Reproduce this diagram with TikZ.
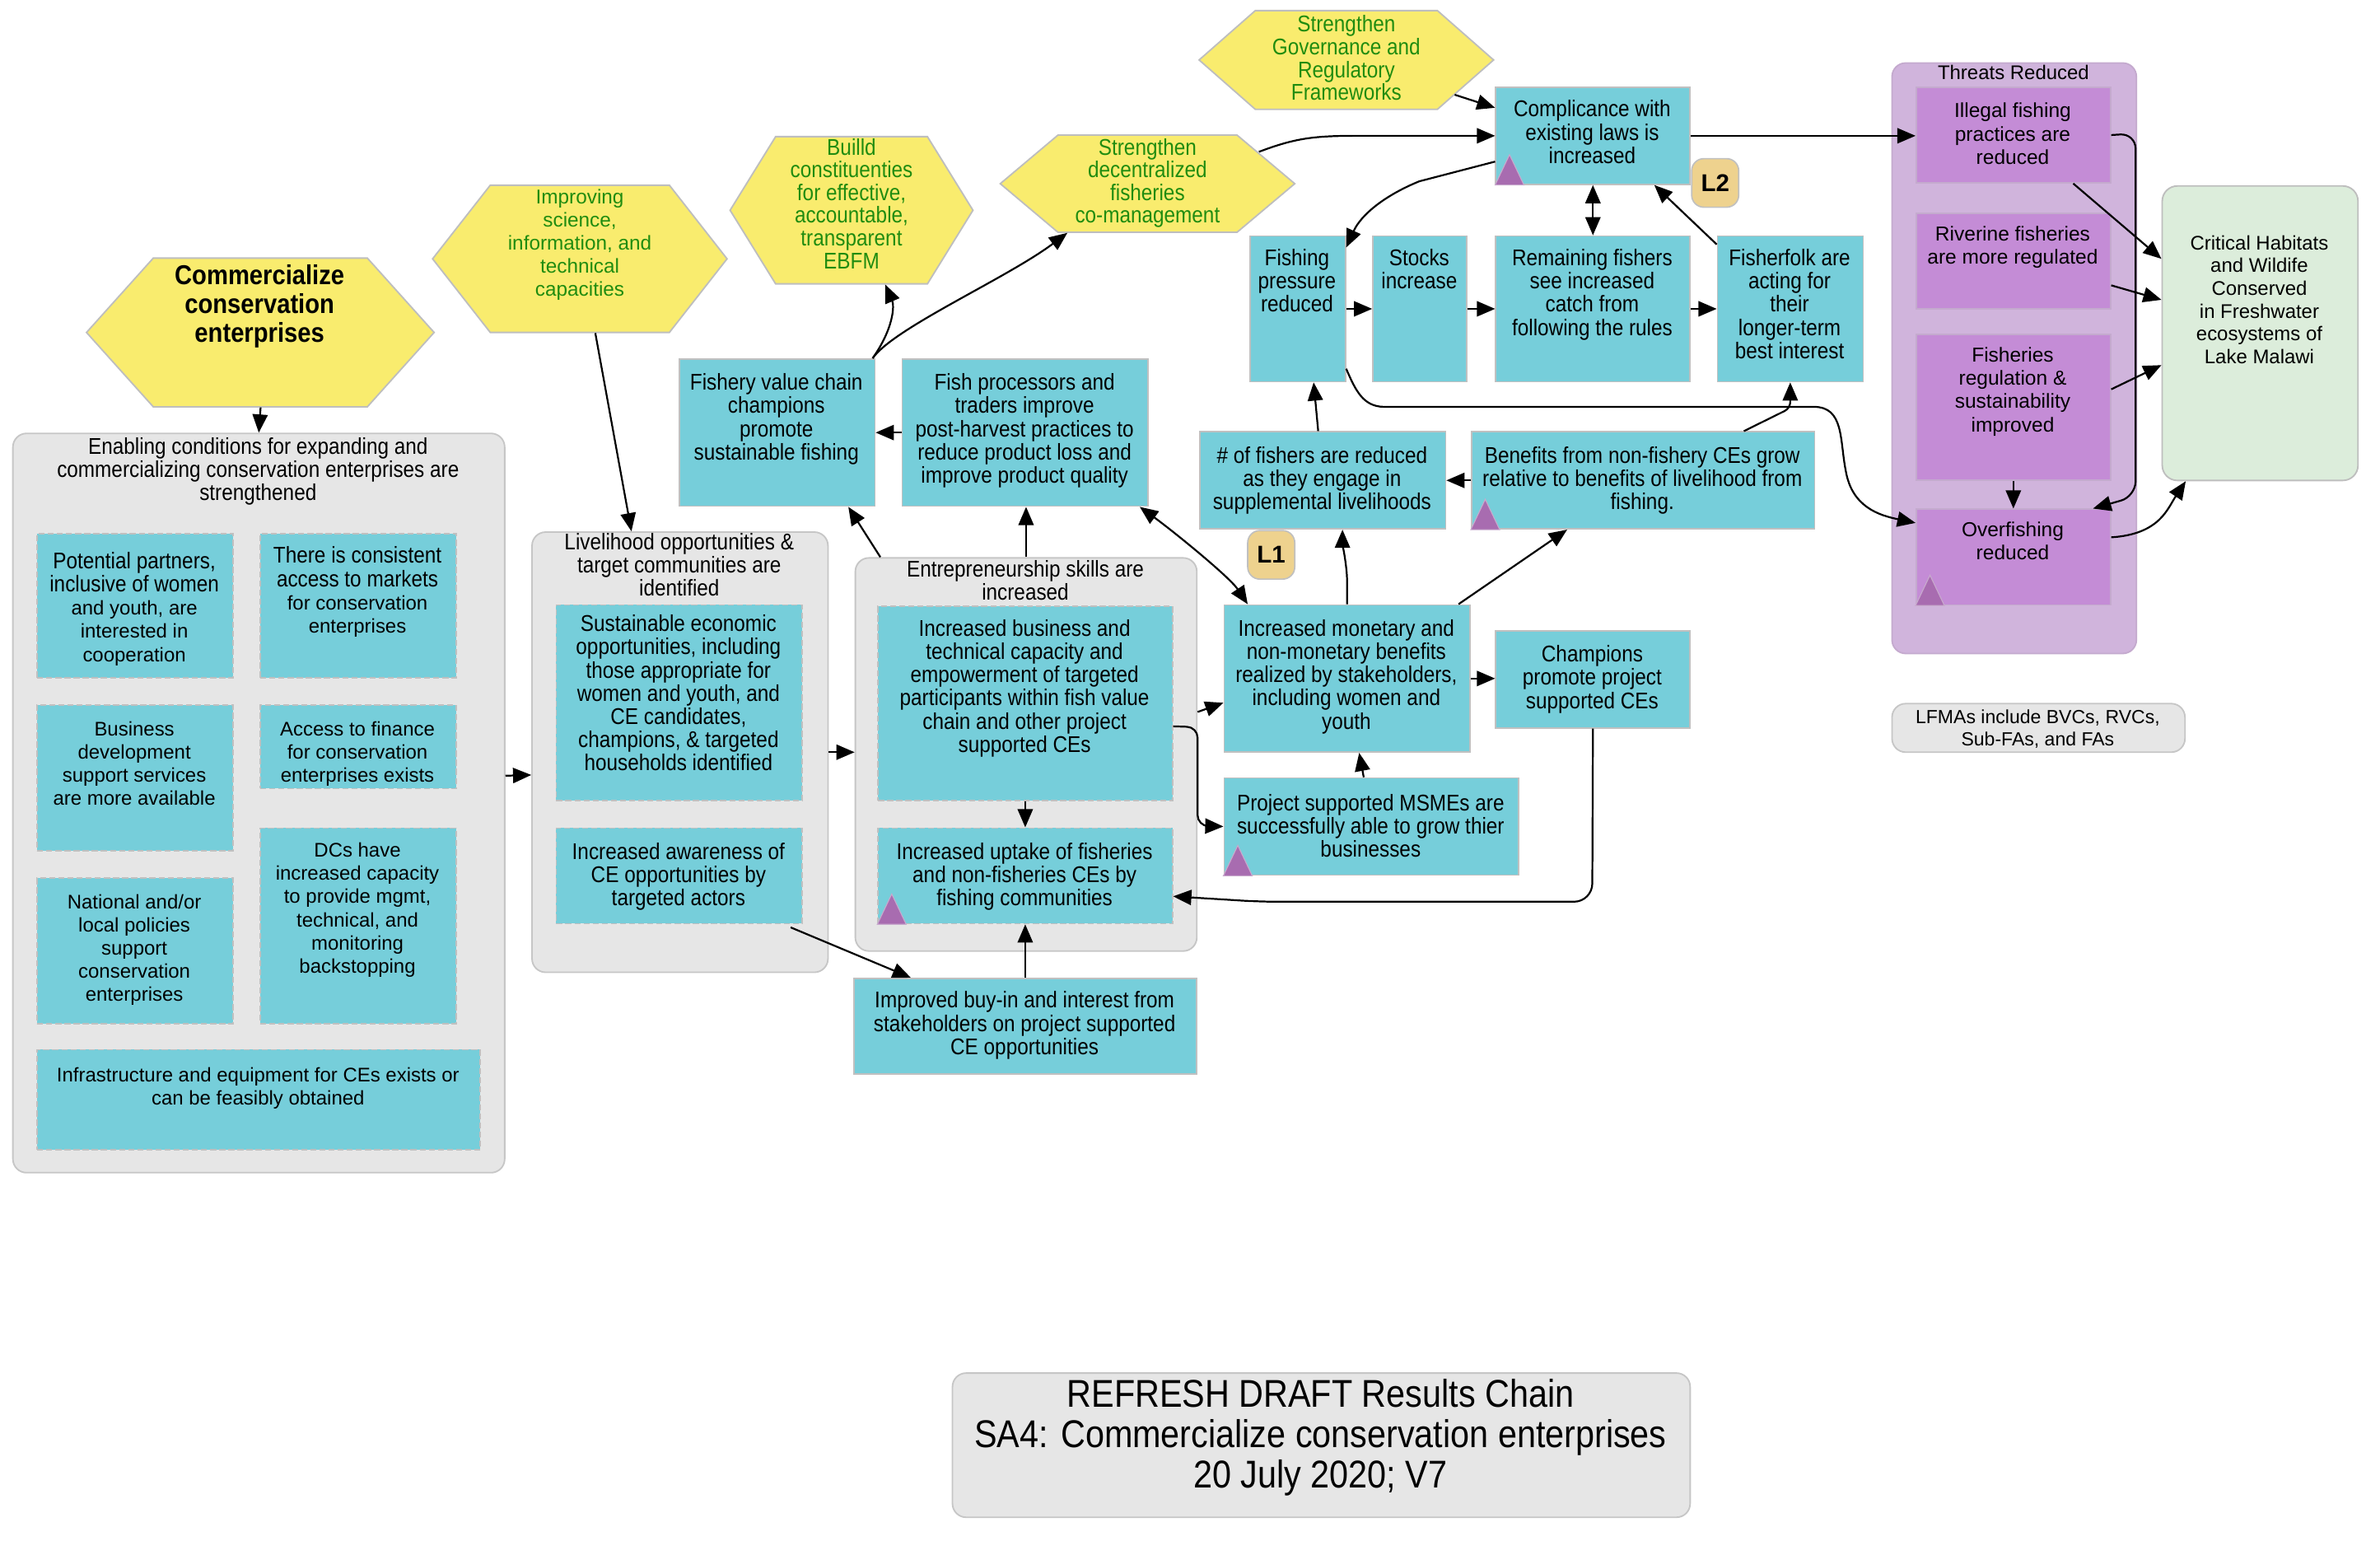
\documentclass[tikz,border=0pt]{standalone}
\usepackage{fontspec}
\setmainfont{Liberation Sans}
\newfontfamily\narrow[FakeStretch=0.88]{Liberation Sans}
\usetikzlibrary{arrows.meta,calc}

\definecolor{cyanC}{RGB}{118,206,218}
\definecolor{bordC}{RGB}{192,192,192}
\definecolor{hexY}{RGB}{249,236,110}
\definecolor{hexBd}{RGB}{190,190,190}
\definecolor{greenT}{RGB}{32,140,16}
\definecolor{grpC}{RGB}{230,230,230}
\definecolor{grpBd}{RGB}{198,198,198}
\definecolor{purG}{RGB}{208,180,220}
\definecolor{purGBd}{RGB}{196,170,206}
\definecolor{purC}{RGB}{196,140,214}
\definecolor{triC}{RGB}{168,108,176}
\definecolor{triBd}{RGB}{200,170,205}
\definecolor{tanC}{RGB}{238,210,142}
\definecolor{critC}{RGB}{220,237,219}

\newcommand\fnar{\narrow\fontsize{15}{15.3}\selectfont}
\newcommand\farl{\fontsize{13}{15.3}\selectfont}

\tikzset{
  cbox/.style={fill=cyanC, draw=bordC, line width=0.9pt},
  dbox/.style={cbox, dash pattern=on 4pt off 2pt},
  pbox/.style={fill=purC, draw=purGBd, line width=0.9pt},
  grp/.style={fill=grpC, draw=grpBd, line width=1pt, rounded corners=9pt},
  pgrp/.style={fill=purG, draw=purGBd, line width=1pt, rounded corners=9pt},
  critbox/.style={fill=critC, draw=hexBd, line width=1pt, rounded corners=10pt},
  hexst/.style={fill=hexY, draw=hexBd, line width=1pt},
  badge/.style={fill=tanC, draw=bordC, line width=0.9pt, rounded corners=8pt,
    inner sep=0, minimum width=31pt, minimum height=32pt,
    font=\bfseries\fontsize{16}{16}\selectfont},
  tri/.style={fill=triC, draw=triBd, line width=0.6pt},
  nar/.style={font=\fnar},
  arl/.style={font=\farl},
  grn/.style={text=greenT},
  arr/.style={-{Triangle[length=12pt,width=10pt]}, line width=1.2pt},
  darr/.style={{Triangle[length=12pt,width=10pt]}-{Triangle[length=12pt,width=10pt]}, line width=1.2pt},
}

% box: name, style, x1, y1, x2, y2
\newcommand\bx[6]{\node[#2, anchor=north west, inner sep=0,
  minimum width={(#5)-(#3)}, minimum height={(#6)-(#4)}] (#1) at (#3,#4) {};}
% text block: name, style, centre x, first baseline y, width, lines
\newcommand\tx[6]{\node[inner sep=0, anchor=base, #2] (#1) at (#3,#4)
  {\parbox[t]{#5pt}{\centering #6}};}
% hexagon: name, x1, y1, x2, y2, inset
\newcommand\hexa[6]{%
  \path[hexst] (#2,{(#3+#5)/2}) -- (#2+#6,#3) -- (#4-#6,#3) -- (#4,{(#3+#5)/2})
    -- (#4-#6,#5) -- (#2+#6,#5) -- cycle;
  \node[inner sep=0, anchor=north west, minimum width={(#4)-(#2)},
    minimum height={(#5)-(#3)}] (#1) at (#2,#3) {};}
% marker triangle in the lower left corner of a box
\newcommand\tri[1]{\draw[tri] (#1.south west) -- ([xshift=19pt]#1.south west)
  -- ([xshift=9.5pt,yshift=20pt]#1.south west) -- cycle;}

\begin{document}
\begin{tikzpicture}[x=1pt,y=-1pt]
\useasboundingbox (0,0) rectangle (1568,1015);

% ---------- strategies ----------
\hexa{h1}{57}{170}{286}{268}{44}
\tx{h1t}{font=\narrow\bfseries\fontsize{18}{19}\selectfont}{171}{187.5}{220}{Commercialize\\conservation\\enterprises}
\hexa{h2}{285}{122}{479}{219}{38}
\tx{h2t}{grn, font=\fontsize{13.2}{15.2}\selectfont}{382}{134.5}{180}{Improving\\science,\\information, and\\technical\\capacities}
\hexa{h3}{481}{90}{641}{187}{30}
\tx{h3t}{grn, font=\narrow\fontsize{15}{15}\selectfont}{561}{102}{150}{Builld\\constituenties\\for effective,\\accountable,\\transparent\\EBFM}
\hexa{h4}{659}{89}{853}{153}{38}
\tx{h4t}{grn, font=\narrow\fontsize{15}{15}\selectfont}{756}{102}{180}{Strengthen\\decentralized\\fisheries\\co-management}
\hexa{h5}{790}{7}{984}{72}{37}
\tx{h5t}{grn, font=\narrow\fontsize{15}{15}\selectfont}{887}{21}{180}{Strengthen\\Governance and\\Regulatory\\Frameworks}

% ---------- enabling conditions ----------
\bx{en}{grp}{8}{285}{332}{772}
\tx{ent}{nar}{170}{299}{312}{Enabling conditions for expanding and\\commercializing conservation enterprises are\\strengthened}
\bx{pp}{dbox}{24}{351}{153}{446}
\tx{ppt}{arl}{88.5}{374.5}{125}{{\fnar Potential partners,\\inclusive of women}\\and youth, are\\interested in\\cooperation}
\bx{cm}{dbox}{171}{351}{300}{446}
\tx{cmt}{arl}{235.5}{371}{125}{{\fnar There is consistent\\access to markets}\\for conservation\\enterprises}
\bx{bd}{dbox}{24}{464}{153}{560}
\tx{bdt}{arl}{88.5}{484.5}{125}{Business\\development\\support services\\are more available}
\bx{af}{dbox}{171}{464}{300}{519}
\tx{aft}{arl}{235.5}{484.5}{125}{Access to finance\\for conservation\\enterprises exists}
\bx{dc}{dbox}{171}{545}{300}{674}
\tx{dct}{arl}{235.5}{564.5}{125}{DCs have\\increased capacity\\to provide mgmt,\\technical, and\\monitoring\\backstopping}
\bx{np}{dbox}{24}{578}{153}{674}
\tx{npt}{arl}{88.5}{598.5}{125}{National and/or\\local policies\\support\\conservation\\enterprises}
\bx{inf}{dbox}{24}{691}{316}{757}
\tx{inft}{arl}{170}{712.5}{288}{Infrastructure and equipment for CEs exists or\\can be feasibly obtained}

% ---------- livelihood opportunities ----------
\bx{lv}{grp}{350}{350}{545}{640}
\tx{lvt}{nar}{447.5}{362}{192}{Livelihood opportunities \&\\target communities are\\identified}
\bx{se}{dbox}{366}{398}{528}{527}
\tx{set}{nar}{447}{416}{158}{Sustainable economic\\opportunities, including\\those appropriate for\\women and youth, and\\CE candidates,\\champions, \& targeted\\households identified}
\bx{ia}{dbox}{366}{545}{528}{608}
\tx{iat}{nar}{447}{566}{158}{Increased awareness of\\CE opportunities by\\targeted actors}

% ---------- entrepreneurship ----------
\bx{ep}{grp}{563}{367}{788}{626}
\tx{ept}{nar}{675.5}{380}{220}{Entrepreneurship skills are\\increased}
\bx{ib}{dbox}{578}{399}{772}{527}
\tx{ibt}{nar}{675}{419}{190}{Increased business and\\technical capacity and\\empowerment of targeted\\participants within fish value\\chain and other project\\supported CEs}
\bx{iu}{dbox}{578}{545}{772}{608}
\tx{iut}{nar}{675}{566}{190}{Increased uptake of fisheries\\and non-fisheries CEs by\\fishing communities}
\bx{buy}{cbox}{562}{644}{788}{707}
\tx{buyt}{nar}{675}{664}{222}{Improved buy-in and interest from\\stakeholders on project supported\\CE opportunities}

% ---------- value chain ----------
\bx{fvc}{cbox}{447}{236}{576}{333}
\tx{fvct}{nar}{511.5}{257}{126}{Fishery value chain\\champions\\promote\\sustainable fishing}
\bx{fp2}{cbox}{594}{236}{756}{333}
\tx{fp2t}{nar}{675}{257}{158}{Fish processors and\\traders improve\\post-harvest practices to\\reduce product loss and\\improve product quality}

% ---------- compliance chain ----------
\bx{comp}{cbox}{985}{57}{1113}{121}
\tx{compt}{nar}{1049}{77}{124}{Complicance with\\existing laws is\\increased}
\node[badge] (l2) at (1130,120.5) {L2};
\bx{fpress}{cbox}{823}{155}{886}{251}
\tx{fpresst}{nar}{854.5}{175}{62}{Fishing\\pressure\\reduced}
\bx{stocks}{cbox}{904}{155}{966}{251}
\tx{stockst}{nar}{935}{175}{62}{Stocks\\increase}
\bx{remain}{cbox}{985}{155}{1113}{251}
\tx{remaint}{nar}{1049}{175}{124}{Remaining fishers\\see increased\\catch from\\following the rules}
\bx{folk}{cbox}{1131}{155}{1227}{251}
\tx{folkt}{nar}{1179}{175}{94}{Fisherfolk are\\acting for\\their\\longer-term\\best interest}

% ---------- benefits ----------
\bx{nfish}{cbox}{790}{284}{952}{348}
\tx{nfisht}{nar}{871}{305}{158}{\# of fishers are reduced\\as they engage in\\supplemental livelihoods}
\bx{benef}{cbox}{969}{284}{1195}{348}
\tx{beneft}{nar}{1082}{305}{222}{Benefits from non-fishery CEs grow\\relative to benefits of livelihood from\\fishing.}
\node[badge] (l1) at (837.5,365.5) {L1};
\bx{mon}{cbox}{806}{398}{968}{495}
\tx{mont}{nar}{887}{419}{158}{Increased monetary and\\non-monetary benefits\\realized by stakeholders,\\including women and\\youth}
\bx{champ}{cbox}{985}{415}{1113}{479}
\tx{champt}{nar}{1049}{436}{124}{Champions\\promote project\\supported CEs}
\bx{msme}{cbox}{806}{512}{1000}{576}
\tx{msmet}{nar}{903}{534}{190}{Project supported MSMEs are\\successfully able to grow thier\\businesses}

% ---------- threats and target ----------
\bx{thr}{pgrp}{1246}{41}{1407}{430}
\tx{thrt}{font=\fontsize{13}{15}\selectfont}{1326.5}{52.5}{158}{Threats Reduced}
\bx{ill}{pbox}{1262}{57}{1390}{120}
\tx{illt}{font=\fontsize{13.3}{15.3}\selectfont}{1326}{77.5}{126}{Illegal fishing\\practices are\\reduced}
\bx{riv}{pbox}{1262}{140}{1390}{203}
\tx{rivt}{font=\fontsize{13.3}{15.3}\selectfont}{1326}{158.5}{126}{Riverine fisheries\\are more regulated}
\bx{freg}{pbox}{1262}{220}{1390}{316}
\tx{fregt}{font=\fontsize{13.3}{15.3}\selectfont}{1326}{238.5}{126}{Fisheries\\regulation \&\\sustainability\\improved}
\bx{over}{pbox}{1262}{335}{1390}{398}
\tx{overt}{font=\fontsize{13.3}{15.3}\selectfont}{1326}{353.5}{126}{Overfishing\\reduced}
\bx{crit}{critbox}{1424}{122}{1553}{316}
\tx{critt}{font=\fontsize{13}{15}\selectfont}{1488.5}{164.5}{126}{Critical Habitats\\and Wildife\\Conserved\\in Freshwater\\ecosystems of\\Lake Malawi}
\bx{lfma}{grp}{1246}{463}{1439}{495}
\tx{lfmat}{font=\fontsize{12.5}{15}\selectfont}{1342.5}{476.5}{190}{LFMAs include BVCs, RVCs,\\Sub-FAs, and FAs}

% ---------- title ----------
\bx{ttl}{grp}{627}{904}{1113}{999}
\tx{ttlt}{font=\narrow\fontsize{25.5}{26.5}\selectfont}{870}{927}{482}{REFRESH DRAFT Results Chain\\SA4: Commercialize conservation enterprises\\20 July 2020; V7}

% ---------- markers ----------
\tri{comp}
\tri{iu}
\tri{benef}
\tri{msme}
\tri{over}

% ---------- connectors ----------
\draw[arr] (h1.south) -- (en.north);
\draw[arr] ([xshift=10pt]h2.south) -- ([xshift=-32pt]lv.north);
\draw[arr] ([yshift=18pt]en.east) -- ([yshift=-15pt]lv.west);
\draw[arr] (lv.east) -- (lv.east -| ep.west);
\draw[arr] (ib.south) -- (iu.north);
\draw[arr] (buy.north) -- (iu.south);
\draw[arr] ([xshift=-8pt,yshift=-2pt]ia.south east) -- ([xshift=38pt]buy.north west);
\draw[arr] ([xshift=17pt]ep.north west) -- ([xshift=-18pt]fvc.south east);
\draw[arr] (ep.north) -- (ep.north |- fp2.south);
\draw[arr] (fp2.west) -- (fvc.east);
\draw[darr] ([xshift=-6pt]fp2.south east) .. controls +(22,16) and +(-12,-18) .. ([xshift=16pt]mon.north west);
\draw[arr] ([xshift=-2pt]fvc.north east) .. controls +(14,-20) and +(6,14) .. ([xshift=22pt]h3.south);
\draw[arr] ([xshift=-2pt]fvc.north east) .. controls +(14,-20) and +(-40,30) .. ([xshift=-53pt]h4.south);
\draw[arr] ([xshift=-24pt,yshift=-11pt]h4.north east) .. controls +(24,-9) and +(-30,0) .. ([xshift=-90pt]comp.west) -- (comp.west);
\draw[arr] ([xshift=-26pt,yshift=10pt]h5.south east) -- ([yshift=-14pt]comp.north west);
\draw[arr] (comp.east) -- (comp.east -| ill.west);
\draw[arr] ([yshift=-17pt]comp.west) -- ([xshift=-50pt,yshift=-30pt]comp.west)
  .. controls +(-22,9) and +(10,-22) .. ([yshift=-8pt]fpress.north east);
\draw[darr] (comp.south) -- (remain.north);
\draw[arr] ([yshift=-6pt]folk.north west) -- ([xshift=-24pt]comp.south east);
\draw[arr] (fpress.east) -- (stocks.west);
\draw[arr] (stocks.east) -- (remain.west);
\draw[arr] (remain.east) -- (folk.west);
\draw[arr] ([xshift=-3pt]nfish.north) -- ([xshift=10.5pt]fpress.south);
\draw[arr] (benef.west) -- (nfish.east);
\draw[arr, rounded corners=4pt] ([xshift=-47pt]benef.north east) -- ([yshift=-17pt]folk.south) -- (folk.south);
\draw[arr] (mon.north) -- ([yshift=16pt]mon.north) .. controls +(0,-8) and +(0,8) .. ([xshift=13pt]nfish.south);
\draw[arr] ([xshift=-8pt]mon.north east) -- ([xshift=-50pt]benef.south);
\draw[arr] (mon.east) -- (mon.east -| champ.west);
\draw[arr] ([xshift=-5pt]msme.north) -- ([xshift=8pt]mon.south);
\draw[arr] ([yshift=28pt]ep.east) -- ([yshift=-16pt]mon.west);
\coordinate (w1) at (789,479);
\coordinate (w2) at (789,544);
\draw[arr, rounded corners=7pt] ([yshift=-15pt]ib.east) -- (w1) -- (w2) -- (msme.west);
\coordinate (w3) at (1049,594);
\coordinate (w4) at (830,594);
\draw[arr, rounded corners=12pt] (champ.south) -- (w3) -- (w4) -- ([yshift=-13.5pt]iu.east);
\coordinate (w5) at (912,268);
\coordinate (w6) at (1195,268);
\coordinate (w7) at (1216,310);
\draw[arr] ([yshift=9pt]fpress.south east) .. controls +(6,14) and +(-14,0) .. (w5) -- (w6)
  .. controls +(20,0) and +(-4,-20) .. (w7) .. controls +(4,24) and +(-24,-5) .. ([yshift=22.5pt]over.west);
\draw[arr] (freg.south) -- (over.north);
\coordinate (w8) at (1407,88);
\coordinate (w9) at (1407,327);
\draw[arr, rounded corners=10pt] (ill.east) -- (w8) -- (w9) -- ([xshift=-12pt]over.north east);
\draw[arr] ([xshift=-25pt]ill.south east) -- ([yshift=49pt]crit.west);
\draw[arr] ([yshift=-16pt]riv.east) -- ([yshift=22pt]crit.west);
\draw[arr] ([yshift=12pt]freg.east) -- ([yshift=-21pt]crit.west);
\draw[arr] ([yshift=13pt]over.east) .. controls +(32,-2) and +(-12,18) .. ([xshift=16pt]crit.south west);
\end{tikzpicture}
\end{document}
